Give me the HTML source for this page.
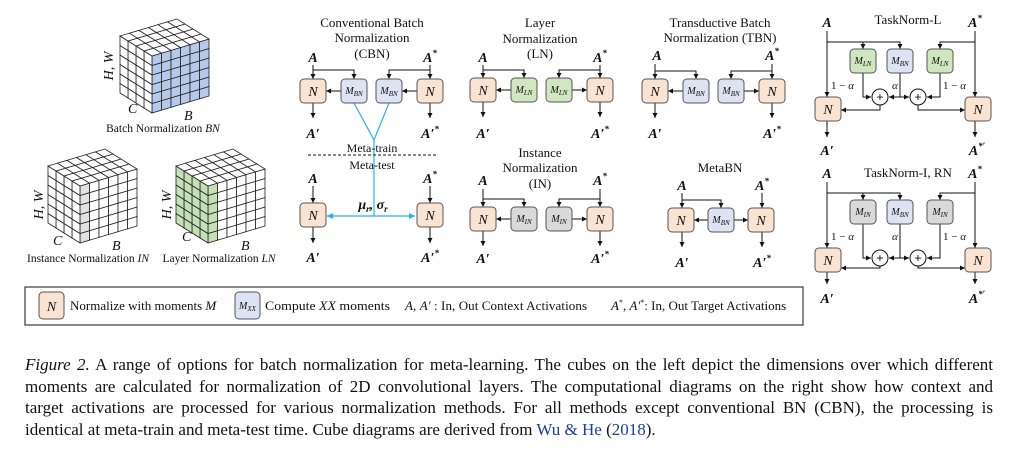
<!DOCTYPE html>
<html><head><meta charset="utf-8"><style>
html,body{margin:0;padding:0;background:#fff;width:1017px;height:458px;overflow:hidden}
svg{position:absolute;left:0;top:0}
svg text{font-family:"Liberation Serif",serif;fill:#111}
.t{font-size:13px;text-anchor:middle}
.a{font-size:14px;font-weight:bold;font-style:italic;text-anchor:middle}
.n{font-size:14px;font-style:italic;text-anchor:middle}
.m{font-size:10px;font-style:italic;text-anchor:middle}
.cap{position:absolute;left:25px;width:968px;font-family:"Liberation Serif",serif;font-size:17px;color:#111;white-space:nowrap}
.j{text-align:justify;text-align-last:justify;white-space:normal}
</style></head><body>
<svg id="s" width="1017" height="458" viewBox="0 0 1017 458" xmlns="http://www.w3.org/2000/svg">
<defs>
<marker id="ar" markerWidth="6" markerHeight="6" refX="5" refY="3" orient="auto" markerUnits="userSpaceOnUse"><path d="M0,0.5 L5,3 L0,5.5 z" fill="#111"/></marker>
<marker id="ab" markerWidth="8" markerHeight="8" refX="6" refY="3.5" orient="auto" markerUnits="userSpaceOnUse"><path d="M0,0.5 L6,3.5 L0,6.5 z" fill="#2ab0ef"/></marker>
<marker id="abs" markerWidth="8" markerHeight="8" refX="0" refY="3.5" orient="auto" markerUnits="userSpaceOnUse"><path d="M6,0.5 L0,3.5 L6,6.5 z" fill="#2ab0ef"/></marker>
</defs>
<g id="g"></g>
<text transform="translate(113,66) rotate(-90)" style="font-size:14px;font-style:italic;text-anchor:middle">H, W</text>
<text x="128" y="113" style="font-size:14px;font-style:italic">C</text>
<text x="184" y="120" style="font-size:14px;font-style:italic">B</text>
<text x="163" y="132" style="font-size:11.5px;text-anchor:middle">Batch Normalization <tspan font-style="italic">BN</tspan></text>
<text transform="translate(43,205) rotate(-90)" style="font-size:14px;font-style:italic;text-anchor:middle">H, W</text>
<text x="53" y="245" style="font-size:14px;font-style:italic">C</text>
<text x="112" y="250" style="font-size:14px;font-style:italic">B</text>
<text x="88" y="262" style="font-size:11.5px;text-anchor:middle">Instance Normalization <tspan font-style="italic">IN</tspan></text>
<text transform="translate(171,205) rotate(-90)" style="font-size:14px;font-style:italic;text-anchor:middle">H, W</text>
<text x="182" y="241" style="font-size:14px;font-style:italic">C</text>
<text x="241" y="250" style="font-size:14px;font-style:italic">B</text>
<text x="219" y="262" style="font-size:11.5px;text-anchor:middle">Layer Normalization <tspan font-style="italic">LN</tspan></text>

<text class="t" x="372" y="27">Conventional Batch</text>
<text class="t" x="372" y="42">Normalization</text>
<text class="t" x="372" y="58">(CBN)</text>
<text class="t" x="540" y="27">Layer</text>
<text class="t" x="540" y="43">Normalization</text>
<text class="t" x="540" y="58">(LN)</text>
<text class="t" x="720" y="27">Transductive Batch</text>
<text class="t" x="720" y="42">Normalization (TBN)</text>
<text class="t" x="540" y="157">Instance</text>
<text class="t" x="540" y="172">Normalization</text>
<text class="t" x="540" y="188">(IN)</text>
<text class="t" x="720" y="172">MetaBN</text>
<text class="t" x="908" y="24">TaskNorm-L</text>
<text class="t" x="908" y="177">TaskNorm-I, RN</text>
<text class="t" x="372" y="152" style="font-size:12px">Meta-train</text>
<text class="t" x="372" y="169" style="font-size:12px">Meta-test</text>
<text x="373" y="209" style="font-size:14px;font-weight:bold;font-style:italic;text-anchor:middle">μ<tspan font-size="9" dy="3">r</tspan><tspan dy="-3">, σ</tspan><tspan font-size="9" dy="3">r</tspan></text>

<text class="a" x="313" y="62">A</text><text class="a" x="430" y="62">A<tspan font-size="9" dy="-6">*</tspan></text>
<text class="a" x="313" y="138">A′</text><text class="a" x="430" y="138">A′<tspan font-size="9" dy="-6">*</tspan></text>
<text class="a" x="313" y="183">A</text><text class="a" x="430" y="183">A<tspan font-size="9" dy="-6">*</tspan></text>
<text class="a" x="313" y="262">A′</text><text class="a" x="430" y="262">A′<tspan font-size="9" dy="-6">*</tspan></text>

<text class="a" x="483" y="62">A</text><text class="a" x="600" y="62">A<tspan font-size="9" dy="-6">*</tspan></text>
<text class="a" x="483" y="138">A′</text><text class="a" x="600" y="138">A′<tspan font-size="9" dy="-6">*</tspan></text>
<text class="a" x="657" y="60">A</text><text class="a" x="772" y="60">A<tspan font-size="9" dy="-6">*</tspan></text>
<text class="a" x="655" y="138">A′</text><text class="a" x="772" y="138">A′<tspan font-size="9" dy="-6">*</tspan></text>
<text class="a" x="483" y="185">A</text><text class="a" x="600" y="185">A<tspan font-size="9" dy="-6">*</tspan></text>
<text class="a" x="483" y="263">A′</text><text class="a" x="600" y="263">A′<tspan font-size="9" dy="-6">*</tspan></text>
<text class="a" x="682" y="190">A</text><text class="a" x="762" y="190">A<tspan font-size="9" dy="-6">*</tspan></text>
<text class="a" x="682" y="267">A′</text><text class="a" x="762" y="267">A′<tspan font-size="9" dy="-6">*</tspan></text>

<text class="a" x="827" y="27">A</text><text class="a" x="975" y="27">A<tspan font-size="9" dy="-6">*</tspan></text>
<text class="a" x="827" y="155">A′</text><text class="a" x="977" y="155">A<tspan font-size="9" dy="-6">*′</tspan></text>
<text class="a" x="827" y="178">A</text><text class="a" x="975" y="178">A<tspan font-size="9" dy="-6">*</tspan></text>
<text class="a" x="827" y="303">A′</text><text class="a" x="977" y="303">A<tspan font-size="9" dy="-6">*′</tspan></text>

<g style="font-size:11px">
<text x="831" y="89">1 − <tspan font-style="italic">α</tspan></text>
<text x="892" y="89" font-style="italic">α</text>
<text x="943" y="89">1 − <tspan font-style="italic">α</tspan></text>
<text x="831" y="240">1 − <tspan font-style="italic">α</tspan></text>
<text x="892" y="240" font-style="italic">α</text>
<text x="943" y="240">1 − <tspan font-style="italic">α</tspan></text>
</g>

<g id="boxes"></g>
<g id="lbl">
<text class="n" x="313" y="96">N</text><text class="n" x="430" y="96">N</text>
<text class="n" x="313" y="220">N</text><text class="n" x="430" y="220">N</text>
<text class="n" x="483" y="95">N</text><text class="n" x="600" y="95">N</text>
<text class="n" x="655" y="96">N</text><text class="n" x="772" y="96">N</text>
<text class="n" x="483" y="224">N</text><text class="n" x="600" y="224">N</text>
<text class="n" x="681" y="225">N</text><text class="n" x="761" y="225">N</text>
<text class="n" x="828" y="114">N</text><text class="n" x="978" y="114">N</text>
<text class="n" x="828" y="265">N</text><text class="n" x="978" y="265">N</text>
<text class="m" x="354" y="94">M<tspan font-size="7" dy="2">BN</tspan></text>
<text class="m" x="389" y="94">M<tspan font-size="7" dy="2">BN</tspan></text>
<text class="m" x="524" y="93">M<tspan font-size="7" dy="2">LN</tspan></text>
<text class="m" x="559" y="93">M<tspan font-size="7" dy="2">LN</tspan></text>
<text class="m" x="696" y="94">M<tspan font-size="7" dy="2">BN</tspan></text>
<text class="m" x="731" y="94">M<tspan font-size="7" dy="2">BN</tspan></text>
<text class="m" x="524" y="222">M<tspan font-size="7" dy="2">IN</tspan></text>
<text class="m" x="559" y="222">M<tspan font-size="7" dy="2">IN</tspan></text>
<text class="m" x="721" y="223">M<tspan font-size="7" dy="2">BN</tspan></text>
<text class="m" x="863" y="64">M<tspan font-size="7" dy="2">LN</tspan></text>
<text class="m" x="900" y="64">M<tspan font-size="7" dy="2">BN</tspan></text>
<text class="m" x="940" y="64">M<tspan font-size="7" dy="2">LN</tspan></text>
<text class="m" x="863" y="215">M<tspan font-size="7" dy="2">IN</tspan></text>
<text class="m" x="900" y="215">M<tspan font-size="7" dy="2">BN</tspan></text>
<text class="m" x="940" y="215">M<tspan font-size="7" dy="2">IN</tspan></text>
</g>

<rect x="25" y="287" width="778" height="38" fill="none" stroke="#111" stroke-width="1"/>
<rect x="39" y="292" width="25" height="27" rx="4" fill="#fbe3d2" stroke="#555" stroke-width="1"/>
<text class="n" x="51.5" y="311">N</text>
<text x="70" y="310" style="font-size:13px">Normalize with moments <tspan font-style="italic">M</tspan></text>
<rect x="235" y="292" width="25" height="27" rx="4" fill="#dde3f3" stroke="#555" stroke-width="1"/>
<text class="m" x="247.5" y="309">M<tspan font-size="7" dy="2">XX</tspan></text>
<text x="265" y="310" style="font-size:13px" textLength="125" lengthAdjust="spacingAndGlyphs">Compute <tspan font-style="italic">XX</tspan> moments</text>
<text x="405" y="310" style="font-size:13px" textLength="182" lengthAdjust="spacing"><tspan font-style="italic">A</tspan>, <tspan font-style="italic">A′</tspan> : In, Out Context Activations</text>
<text x="611" y="310" style="font-size:13px"><tspan font-style="italic">A</tspan><tspan font-size="8" dy="-5">*</tspan><tspan dy="5">, </tspan><tspan font-style="italic">A′</tspan><tspan font-size="8" dy="-5">*</tspan><tspan dy="5">: In, Out Target Activations</tspan></text>
</svg>

<div class="cap j" style="top:355px"><i>Figure 2.</i> A range of options for batch normalization for meta-learning. The cubes on the left depict the dimensions over which different</div>
<div class="cap j" style="top:377px">moments are calculated for normalization of 2D convolutional layers. The computational diagrams on the right show how context and</div>
<div class="cap j" style="top:398px">target activations are processed for various normalization methods. For all methods except conventional BN (CBN), the processing is</div>
<div class="cap" style="top:420px">identical at meta-train and meta-test time. Cube diagrams are derived from <span style="color:#1a3c9c">Wu &amp; He</span> (<span style="color:#1a3c9c">2018</span>).</div>
<script>
(function(){
var NS="http://www.w3.org/2000/svg",g=document.getElementById('g'),bx=document.getElementById('boxes');
function el(t,a,p){var e=document.createElementNS(NS,t);for(var k in a)e.setAttribute(k,a[k]);(p||g).appendChild(e);return e;}
function L(x1,y1,x2,y2,arr){var a={x1:x1,y1:y1,x2:x2,y2:y2,stroke:'#111','stroke-width':1};if(arr)a['marker-end']='url(#ar)';el('line',a);}
function P(pts,arr){var a={points:pts,fill:'none',stroke:'#111','stroke-width':1};if(arr)a['marker-end']='url(#ar)';el('polyline',a);}
var C={N:'#fbe3d2',BN:'#dde3f3',LN:'#cfe6bf',IN:'#d9d9d9'};
function B(x,y,k){el('rect',{x:x,y:y,width:26,height:24,rx:4,fill:C[k],stroke:'#555','stroke-width':1},bx);}
function cube(ox,oy,mode){
 var Bv=[57,-17],Hv=[0,-57],Cv=[-32,-20],nb=6,nh=6,nc=4;
 function pt(b,h,c){return [ox+Bv[0]*b/nb+Hv[0]*h/nh+Cv[0]*c/nc, oy+Bv[1]*b/nb+Hv[1]*h/nh+Cv[1]*c/nc];}
 function quad(p,f){el('polygon',{points:p.map(function(q){return q.join(',')}).join(' '),fill:f,stroke:'#222','stroke-width':0.8});}
 var i,j;
 for(i=0;i<nb;i++)for(j=0;j<nh;j++){var f='#fff';if(mode=='BN')f='#b7c9ea';if((mode=='IN')&&i==0)f='#e2e2e2';if(mode=='LN'&&i==0)f='#c5e0b4';
  quad([pt(i,j,0),pt(i+1,j,0),pt(i+1,j+1,0),pt(i,j+1,0)],f);}
 for(i=0;i<nc;i++)for(j=0;j<nh;j++){var f2=mode=='LN'?'#c5e0b4':'#fff';
  quad([pt(0,j,i),pt(0,j,i+1),pt(0,j+1,i+1),pt(0,j+1,i)],f2);}
 for(i=0;i<nb;i++)for(j=0;j<nc;j++){quad([pt(i,nh,j),pt(i+1,nh,j),pt(i+1,nh,j+1),pt(i,nh,j+1)],'#fff');}
}
cube(152,113,'BN');cube(80,243,'IN');cube(208,243,'LN');
function pair(ax,a2x,ya,top,by,mk,rightRev,mL,mR){
 var nl=ax-13,nr=a2x-13;
 B(nl,top,'N');B(mL,top,mk);B(mR,top,mk);B(nr,top,'N');
 var cy=top+12;
 L(ax,ya,ax,top,1);P(ax+','+by+' '+(mL+13)+','+by+' '+(mL+13)+','+top,1);
 L(mL,cy,nl+26,cy,1);
 L(a2x,ya,a2x,top,1);P(a2x+','+by+' '+(mR+13)+','+by+' '+(mR+13)+','+top,1);
 if(rightRev)L(nr,cy,mR+26,cy,1);else L(mR+26,cy,nr,cy,1);
 L(ax,top+24,ax,top+39,1);L(a2x,top+24,a2x,top+39,1);
}
pair(313,430,65,79,70,'BN',true,341,376);
pair(483,600,65,78,70,'LN',false,511,546);
pair(655,772,64,79,71,'BN',false,683,718);
pair(483,600,189,207,199,'IN',false,511,546);
B(300,203,'N');B(417,203,'N');
L(313,186,313,203,1);L(430,186,430,203,1);L(313,227,313,243,1);L(430,227,430,243,1);
var bl={stroke:'#2ab0ef','stroke-width':1.2,fill:'none'};
var p1=el('polyline',{points:'354,103 374,140 389,103'});for(var k in bl)p1.setAttribute(k,bl[k]);
var p2=el('line',{x1:374,y1:140,x2:374,y2:216});for(k in bl)p2.setAttribute(k,bl[k]);
var p3=el('line',{x1:327,y1:216,x2:415,y2:216,'marker-end':'url(#ab)','marker-start':'url(#abs)'});for(k in bl)p3.setAttribute(k,bl[k]);
el('line',{x1:308,y1:155,x2:436,y2:155,stroke:'#111','stroke-width':1,'stroke-dasharray':'3,2'});
B(668,208,'N');B(708,208,'BN');B(748,208,'N');
L(682,193,682,208,1);P('682,200 721,200 721,208',1);L(762,193,762,208,1);
L(708,220,694,220,1);L(734,220,748,220,1);
L(682,232,682,247,1);L(762,232,762,247,1);
function tn(ya,by,mt,cyc,ny,ly,oend,k){
 B(815,ny,'N');B(965,ny,'N');B(850,mt,k);B(887,mt,'BN');B(927,mt,k);
 L(827,ya,827,ny,1);L(975,ya,975,ny,1);
 P('827,'+by+' 900,'+by+' 900,'+mt,1);L(863,by,863,mt,1);
 P('975,'+by+' 940,'+by+' 940,'+mt,1);
 P('863,'+(mt+24)+' 863,'+cyc+' 871,'+cyc,1);
 L(900,mt+24,900,cyc);L(900,cyc,889,cyc,1);L(900,cyc,909,cyc,1);
 P('940,'+(mt+24)+' 940,'+cyc+' 927,'+cyc,1);
 [880,918].forEach(function(cx){el('circle',{cx:cx,cy:cyc,r:8,fill:'#fff',stroke:'#111','stroke-width':1});
  el('text',{x:cx,y:cyc+4.5,'text-anchor':'middle','font-size':'13','font-weight':'bold','font-family':'Liberation Sans,sans-serif'}).textContent='+';});
 P('880,'+(cyc+8)+' 880,'+ly+' 841,'+ly,1);
 P('918,'+(cyc+8)+' 918,'+ly+' 965,'+ly,1);
 L(827,ny+24,827,oend,1);L(975,ny+24,975,oend,1);
}
tn(31,42,49,97,97,110,137,'LN');
tn(182,193,200,258,248,268,284,'IN');
})();
</script>
</body></html>
